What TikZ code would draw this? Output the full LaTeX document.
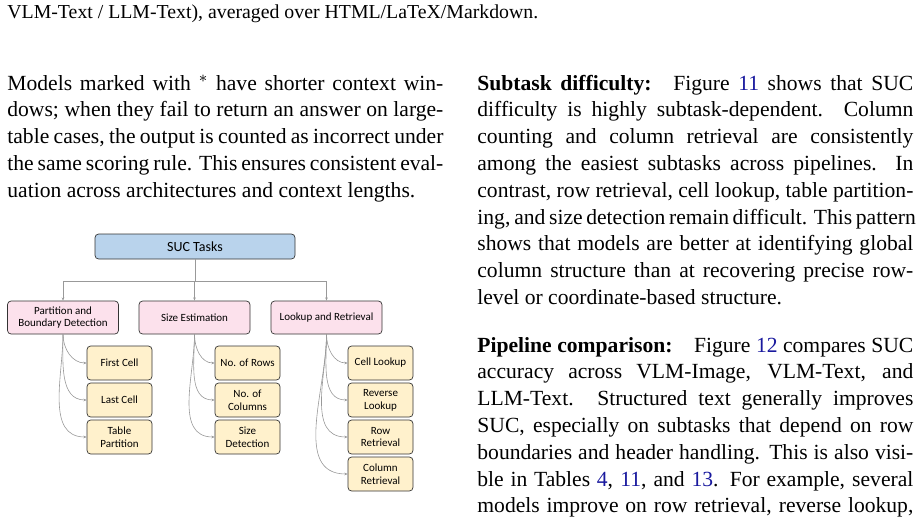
\documentclass[tikz,border=0pt]{standalone}
\usepackage{fontspec}
\setmainfont{Liberation Serif}
\newfontfamily\boxfont{Carlito}
\usetikzlibrary{arrows.meta}
\definecolor{linkblue}{rgb}{0.1,0.1,0.62}
\definecolor{rootblue}{HTML}{B9D3EC}
\definecolor{grppink}{HTML}{FCE1EC}
\definecolor{leafyel}{HTML}{FFF1CC}
\newcommand*{\reff}[1]{\textcolor{linkblue}{#1}}
\begin{document}
\begin{tikzpicture}[
		x=0.5pt, y=-0.5pt,
		box/.style={draw=black!80, rounded corners=1.8pt, line width=0.35pt, inner sep=0pt, align=center, font=\boxfont\fontsize{5.5}{6.4}\selectfont},
		root/.style={box, fill=rootblue, minimum width=100pt, minimum height=12.5pt, font=\boxfont\fontsize{7}{8}\selectfont},
		grp/.style={box, fill=grppink, minimum width=55.5pt, minimum height=16.5pt},
		leaf/.style={box, fill=leafyel, minimum width=32.5pt, minimum height=17pt},
		conn/.style={draw=black!40, line width=0.3pt, -{Stealth[length=1.6pt,width=1.3pt]}},
		txt/.style={anchor=base west, inner sep=0pt, font=\fontsize{10.8}{13.4}\selectfont},
]

\def\colw{218pt}
\def\lsp{26.8}
% one justified line of a column
\newcommand*{\jline}[4][s]{%
	\node [txt] at (#2) {\makebox[\colw][#1]{#4}};
}

\useasboundingbox (0,0) rectangle (923,516);

% caption tail
\node [txt, font=\fontsize{9.9}{12}\selectfont] (cap) at (7,18) {VLM-Text / LLM-Text), averaged over HTML/LaTeX/Markdown.};

% left column
\jline{7,90}{l1}{Models marked with $^*$ have shorter context win-}
\jline{7,90+\lsp}{l2}{dows; when they fail to return an answer on large-}
\jline{7,90+2*\lsp}{l3}{table cases, the output is counted as incorrect under}
\jline{7,90+3*\lsp}{l4}{the same scoring rule. This ensures consistent eval-}
\jline[l]{7,90+4*\lsp}{l5}{uation across architectures and context lengths.}

% right column
\jline{477,90}{r1}{\textbf{Subtask difficulty:}\quad Figure \reff{11} shows that SUC}
\jline{477,90+\lsp}{r2}{difficulty is highly subtask-dependent. Column}
\jline{477,90+2*\lsp}{r3}{counting and column retrieval are consistently}
\jline{477,90+3*\lsp}{r4}{among the easiest subtasks across pipelines. In}
\jline{477,90+4*\lsp}{r5}{contrast, row retrieval, cell lookup, table partition-}
\jline{477,90+5*\lsp}{r6}{ing, and size detection remain difficult. This pattern}
\jline{477,90+6*\lsp}{r7}{shows that models are better at identifying global}
\jline{477,90+7*\lsp}{r8}{column structure than at recovering precise row-}
\jline[l]{477,90+8*\lsp}{r9}{level or coordinate-based structure.}

\jline{477,352}{r10}{\textbf{Pipeline comparison:}\quad Figure \reff{12} compares SUC}
\jline{477,352+\lsp}{r11}{accuracy across VLM-Image, VLM-Text, and}
\jline{477,352+2*\lsp}{r12}{LLM-Text. Structured text generally improves}
\jline{477,352+3*\lsp}{r13}{SUC, especially on subtasks that depend on row}
\jline{477,352+4*\lsp}{r14}{boundaries and header handling. This is also visi-}
\jline{477,352+5*\lsp}{r15}{ble in Tables \reff{4}, \reff{11}, and \reff{13}. For example, several}
\jline{477,352+6*\lsp}{r16}{models improve on row retrieval, reverse lookup,}

% task tree
\node [root] (suc) at (195,246.5) {SUC Tasks};

\node [grp] (part) at (63,317.5) {Partition and\\Boundary Detection};
\node [grp] (size) at (194.5,317.5) {Size Estimation};
\node [grp] (look) at (326.5,317.5) {Lookup and Retrieval};

\coordinate (split) at (195,281);
\foreach \g in {part,size,look}
	\draw [conn] (suc.south) -- (split) -| (\g.north);

\foreach \g/\x in {part/119.5,size/247.5,look/380.5}{
	\foreach \i/\y in {1/363,2/400,3/437,4/474}{
		\coordinate (\g-\i) at (\x,\y);
	}
}

\node [leaf] (fcell) at (part-1) {First Cell};
\node [leaf] (lcell) at (part-2) {Last Cell};
\node [leaf] (tpart) at (part-3) {Table\\Partition};
\node [leaf] (nrows) at (size-1) {No. of Rows};
\node [leaf] (ncols) at (size-2) {No. of\\Columns};
\node [leaf] (sdet) at (size-3) {Size\\Detection};
\node [leaf] (clook) at (look-1) {Cell Lookup};
\node [leaf] (rlook) at (look-2) {Reverse\\Lookup};
\node [leaf] (rret) at (look-3) {Row\\Retrieval};
\node [leaf] (cret) at (look-4) {Column\\Retrieval};

\foreach \g/\l in {part/fcell,part/lcell,part/tpart,size/nrows,size/ncols,size/sdet,look/clook,look/rlook,look/rret,look/cret}
	\draw [conn] (\g.south) to[out=-90,in=180] (\l.west);

\end{tikzpicture}
\end{document}
